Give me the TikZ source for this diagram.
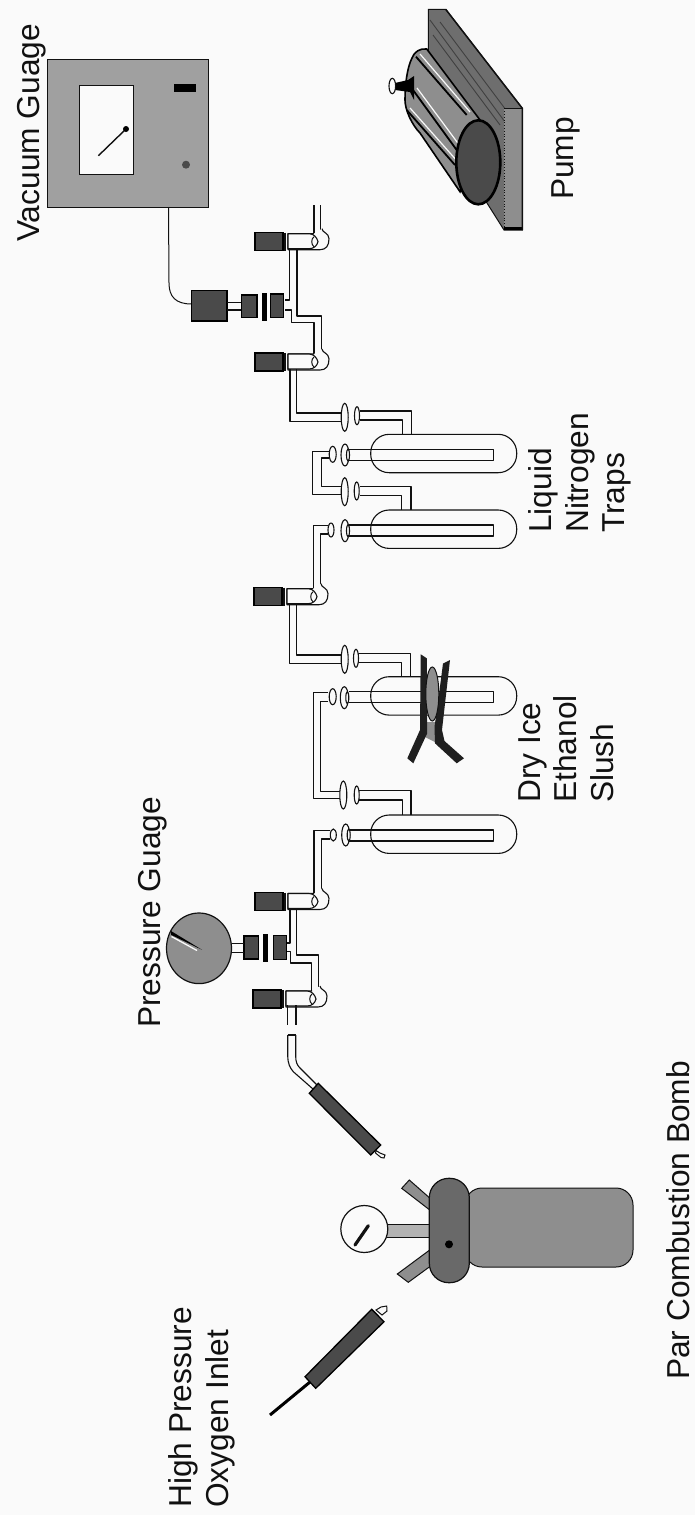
\documentclass[tikz,border=0pt]{standalone}
\usepackage{fontspec}
\setmainfont{Liberation Sans}
\definecolor{paper}{HTML}{FAFAFA}
\definecolor{inkc}{HTML}{111111}
\definecolor{midg}{HTML}{8E8E8E}
\definecolor{boxg}{HTML}{A0A0A0}
\definecolor{darkg}{HTML}{4A4A4A}
\definecolor{plateg}{HTML}{6E6E6E}
\tikzset{
  pipe/.style={draw=inkc,line width=1.1pt,line join=round},
  dark part/.style={fill=darkg,draw=black,line width=1.3pt},
  gray part/.style={fill=midg,draw=inkc,line width=1pt},
  flange/.style={fill=paper,draw=inkc,line width=1.1pt},
  label/.style={rotate=90,anchor=base west,inner sep=0pt,text=inkc,font=\fontsize{31.7}{36}\selectfont},
}
% valve: #1 x shift, #2 y of the top of its dark knob
\newcommand{\valvepart}[2]{%
  \begin{scope}[shift={(#1,#2)}]
    \draw[dark part] (255,0) rectangle (283,18);
    \draw[inkc,line width=1.6pt] (285,0) -- (285,18);
    \draw[pipe,fill=paper] (322,-4) .. controls (322,0) and (329,0) .. (329,6) .. controls (329,13) and (326,17) .. (320,17) -- (288,17) -- (288,1) -- (314,1);
    \draw[pipe,fill=paper] (288,1) -- (309,1) .. controls (314,1) and (317,5) .. (318,9) .. controls (317,13) and (314,16) .. (309,16) -- (288,16) -- cycle;
    \draw[inkc,line width=1pt] (314,4) .. controls (311,6) and (311,12) .. (314,14);
  \end{scope}}
% trap: #1 y of upper edge of vessel
\newcommand{\trappart}[1]{%
  \begin{scope}[shift={(0,#1)}]
    \draw[pipe,rounded corners=18.5pt] (370.7,0) rectangle (516.7,38.4);
    \draw[pipe] (349,15) -- (493.3,15) -- (493.3,26) -- (349,26);
  \end{scope}}
\begin{document}
\begin{tikzpicture}[x=1pt,y=-1pt]
\useasboundingbox (0,0) rectangle (695,1515);
\fill[paper] (0,0) rectangle (695,1515);

% --- Vacuum gauge
\draw[fill=boxg,draw=inkc,line width=1pt] (47.5,59) rectangle (208,207);
\draw[fill=paper,draw=inkc,line width=1pt] (79,85.7) rectangle (133,174);
\draw[inkc,line width=1.4pt] (126,129) -- (98.4,155.7);
\fill[black] (126,129) circle[radius=3];
\fill[black] (174,84.3) rectangle (196,92.3);
\fill[darkg] (186,164.7) circle[radius=4];
\draw[inkc,line width=1pt] (168.5,207) -- (169,283) .. controls (169,297) and (176,304) .. (191.5,304);

% --- vacuum connector
\draw[dark part] (191.5,290.7) rectangle (227,321);
\draw[inkc,line width=1.2pt] (227,302.7) -- (241.6,302.7) (227,310) -- (241.6,310);
\draw[dark part] (241.6,295) rectangle (257,317.3);
\fill[black] (261.5,292.7) rectangle (267,320.7);
\draw[dark part] (270.4,294) rectangle (283.7,317.3);

% --- top pipes
\draw[pipe] (314,205) -- (314,233) (320.8,205) -- (320.8,233);
\draw[pipe] (289.5,248) -- (289.5,300) -- (285,300);
\draw[pipe] (285,310) -- (291.7,310) -- (291.7,322.7) -- (314,322.7) -- (314,354);
\draw[pipe] (297,248) -- (297,316) -- (321.7,316) -- (321.7,354);
\valvepart{0}{232.7}
\valvepart{0}{353}

% --- pipe to trap 1
\draw[pipe] (290,369) -- (290,421.7) -- (342,421.7);
\draw[pipe] (296.7,369) -- (296.7,413) -- (342,413);
\draw[pipe] (360,411) -- (411.7,411) -- (411.7,435);
\draw[pipe] (360,420) -- (402.3,420) -- (402.3,435);
\draw[flange] (344.7,417.3) ellipse[x radius=3.5,y radius=14];
\draw[flange] (357,415.7) ellipse[x radius=2.5,y radius=9];

% --- trap 1
\trappart{434.3}
\draw[flange] (345,455) ellipse[x radius=4,y radius=11];
\draw[flange] (348,455) ellipse[x radius=1.5,y radius=6];
\draw[pipe] (329,451.7) -- (312.7,451.7) -- (312.7,494.3) -- (342,494.3);
\draw[pipe] (329,458) -- (321.7,458) -- (321.7,486.7) -- (342,486.7);
\draw[flange] (332.7,454.3) ellipse[x radius=3.5,y radius=8];
\draw[pipe] (360,486.7) -- (411,486.7) -- (411,510);
\draw[pipe] (360,495.7) -- (401.7,495.7) -- (401.7,510);
\draw[flange] (344.7,491.7) ellipse[x radius=3.5,y radius=14];
\draw[flange] (356.7,491) ellipse[x radius=2.5,y radius=9];

% --- trap 2
\trappart{510}
\draw[flange] (345,530.7) ellipse[x radius=4,y radius=11];
\draw[flange] (348,530.7) ellipse[x radius=1.5,y radius=6];
\draw[pipe] (328,525.7) -- (313.3,525.7) -- (313.3,590);
\draw[pipe] (328,534) -- (320.7,534) -- (320.7,590);
\draw[flange] (331,530) ellipse[x radius=3,y radius=7];
\valvepart{-1}{587.7}

% --- pipe to trap 3
\draw[pipe] (289.3,603) -- (289.3,663.5) -- (341,663.5);
\draw[pipe] (296.7,603) -- (296.7,655) -- (341,655);
\draw[pipe] (358,653.3) -- (410.7,653.3) -- (410.7,676.7);
\draw[pipe] (358,662.3) -- (401.7,662.3) -- (401.7,676.7);
\draw[flange] (344.7,659.3) ellipse[x radius=3.5,y radius=14];
\draw[flange] (356,658.3) ellipse[x radius=2.5,y radius=9];

% --- trap 3 with clamp
\trappart{676.7}
\draw[flange] (344.3,697.7) ellipse[x radius=4,y radius=11];
\draw[flange] (347.3,697.7) ellipse[x radius=1.5,y radius=6];
\fill[midg] (425,722) -- (437,722) -- (439,744) -- (425,737) -- cycle;
\fill[black!88] (420.7,654.3) -- (426.8,658.3) -- (427.2,720) -- (427.2,733.3) -- (413.3,763.3) -- (407.3,758.3) -- (420,730) -- cycle;
\fill[black!88] (450,660) -- (443,663.5) -- (436.5,713.3) -- (434.5,726.7) -- (435,743.3) -- (456.7,763.3) -- (464,758.3) -- (444.5,741) -- (442,730) -- cycle;
\draw[fill=midg,draw=inkc,line width=1pt] (432.3,694) ellipse[x radius=6.5,y radius=27];
\draw[pipe] (328,692.3) -- (313.3,692.3) -- (313.3,798.3) -- (340,798.3);
\draw[pipe] (328,701.7) -- (320.7,701.7) -- (320.7,791.7) -- (340,791.7);
\draw[flange] (332.7,696.7) ellipse[x radius=3.5,y radius=8];
\draw[pipe] (358,790.7) -- (411,790.7) -- (411,815);
\draw[pipe] (358,800) -- (402.3,800) -- (402.3,815);
\draw[flange] (343.3,795) ellipse[x radius=3.5,y radius=14];
\draw[flange] (356.7,795) ellipse[x radius=2.5,y radius=9];

% --- trap 4
\trappart{815}
\draw[flange] (345.7,835) ellipse[x radius=4,y radius=11];
\draw[flange] (348.7,835) ellipse[x radius=1.5,y radius=6];
\draw[pipe] (330,830.7) -- (314,830.7) -- (314,895);
\draw[pipe] (330,839) -- (321.7,839) -- (321.7,895);
\draw[flange] (333.3,835) ellipse[x radius=3,y radius=6];
\valvepart{0}{892.5}

% --- pressure gauge
\draw[pipe] (290,908) -- (290,943) -- (287,943);
\draw[pipe] (287,951.7) -- (290.7,951.7) -- (290.7,963) -- (311.7,963) -- (311.7,992);
\draw[pipe] (296.7,908) -- (296.7,955) -- (318.3,955) -- (318.3,992);
\draw[dark part] (273.3,935.7) rectangle (286.7,959.3);
\fill[black] (263.3,934) rectangle (268.3,962.3);
\draw[dark part] (244,936) rectangle (258.3,959);
\draw[inkc,line width=1.2pt] (231.7,943.3) -- (244,943.3) (231.7,952.7) -- (244,952.7);
\draw[fill=midg,draw=inkc,line width=1.2pt] (199,948.3) ellipse[x radius=32.5,y radius=35.3];
\draw[paper,line width=1.3pt] (171.5,936.5) -- (197,950.5);
\fill[black] (171,931) -- (202,949.8) -- (171,934.8) -- cycle;
\valvepart{-2}{990}

% --- inlet short pipes and hose to bomb
\draw[pipe] (287.7,1005) -- (287.7,1025) (296,1005) -- (296,1025);
\draw[pipe] (287.7,1035) -- (295.7,1035);
\draw[pipe] (287.7,1035) -- (287.7,1056) .. controls (287.7,1063) and (290,1068) .. (293.3,1071.7) -- (313,1089);
\draw[pipe] (295.7,1035) -- (295.7,1056) .. controls (295.7,1062) and (297,1065) .. (300,1068) -- (317,1085);
\draw[dark part] (318.3,1083.3) -- (309.3,1093.3) -- (370.7,1155) -- (380.7,1145) -- cycle;
\draw[fill=paper,draw=inkc,line width=1pt] (376,1150.5) -- (380,1153) -- (385,1155) -- (384,1158) -- (381,1157.5) -- (375.5,1153) -- cycle;

% --- bomb
\draw[gray part] (401.7,1188.3) -- (409.3,1180) -- (432,1200) -- (432,1211.7) -- cycle;
\draw[gray part] (397.3,1274) -- (408.3,1282.3) -- (432,1265) -- (432,1248.3) -- cycle;
\draw[fill=boxg!80!paper,draw=inkc,line width=1pt] (386.7,1224.3) rectangle (430,1237.3);
\draw[flange,line width=1.2pt] (364.3,1229) circle[radius=23.5];
\draw[inkc,line width=3.2pt,line cap=round] (355,1245) -- (368.3,1225.7);
\draw[fill=midg,draw=inkc,line width=1pt,rounded corners=17pt] (465,1188) rectangle (633,1267);
\draw[fill=darkg!55!midg,draw=inkc,line width=1.2pt,rounded corners=19.5pt] (429.3,1178.3) rectangle (469.3,1282.7);
\fill[black] (449,1244.3) circle[radius=4];

% --- oxygen inlet
\draw[dark part] (371.7,1309.3) -- (384,1321.7) -- (315.7,1388.3) -- (305,1376.7) -- cycle;
\draw[fill=paper,draw=inkc,line width=1pt] (376,1310) -- (381,1307) -- (386.7,1306) -- (387,1311) -- (382,1315) -- cycle;
\draw[black,line width=3pt] (310,1382) -- (270,1415);

% --- pump
\fill[plateg,draw=inkc,line width=1pt] (428.3,9.3) -- (445.7,9.3) -- (522.3,108.3) -- (522.3,230) -- (504,230) -- (428.3,110) -- cycle;
\begin{scope}
  \clip (428.3,9.3) -- (445.7,9.3) -- (522.3,108.3) -- (504,108.3) -- (504,230) -- (428.3,110) -- cycle;
  \draw[black!75,line width=.9pt] (430,20) -- (505,122) (440,22) -- (515,122) (433,35) -- (500,125);
\end{scope}
\fill[midg] (504,108.3) rectangle (522.3,230);
\draw[inkc,line width=.8pt,dotted] (504,108.3) -- (504,230);
\draw[inkc,line width=1pt] (504,108.3) -- (522.3,108.3);
\fill[black] (504,227) rectangle (522.3,230);
\draw[inkc,line width=1.5pt] (445.7,9.3) -- (522.3,108.3) -- (522.3,230);
\draw[fill=midg,draw=black,line width=1.6pt] (480,120) -- (426.7,49) .. controls (420,48) and (414,52) .. (412,58) .. controls (407,68) and (405,85) .. (405,100) .. controls (405,110) and (412,125) .. (420,133) -- (460,191.7) -- cycle;
\draw[black,line width=1.8pt] (416,56.7) -- (466.7,115);
\draw[black,line width=1.8pt] (413,90) -- (456.7,150);
\draw[black,line width=1.8pt] (406.7,110) -- (455,165);
\draw[paper,line width=1.2pt] (420,54) -- (470,112);
\draw[paper,line width=1.2pt] (417,88) -- (460,146);
\draw[paper,line width=1.2pt] (410,108) -- (458,162);
\draw[fill=darkg,draw=black,line width=2.6pt] (478.3,162.3) ellipse[x radius=22,y radius=42];
\fill[black] (395,83) -- (408,80) -- (414,76) -- (414,100) -- (410,92) -- (395,90) -- cycle;
\draw[flange] (392.3,86) ellipse[x radius=3.3,y radius=7.7];

% --- labels
\node[label] (vg) at (39,242) {Vacuum Guage};
\node[label] (pu) at (573,200) {Pump};
\node[label] (ln1) at (551.7,533) {Liquid};
\node[label] (ln2) at (588,533) {Nitrogen};
\node[label] (ln3) at (624,533) {Traps};
\node[label] (di1) at (540,803) {Dry Ice};
\node[label] (di2) at (576.7,803) {Ethanol};
\node[label] (di3) at (613,803) {Slush};
\node[label] (pg) at (160,1028) {Pressure Guage};
\node[label] (ho1) at (191.7,1508) {High Pressure};
\node[label] (ho2) at (228,1508) {Oxygen Inlet};
\node[label] (pb) at (689,1380) {Par Combustion Bomb};
\end{tikzpicture}
\end{document}
